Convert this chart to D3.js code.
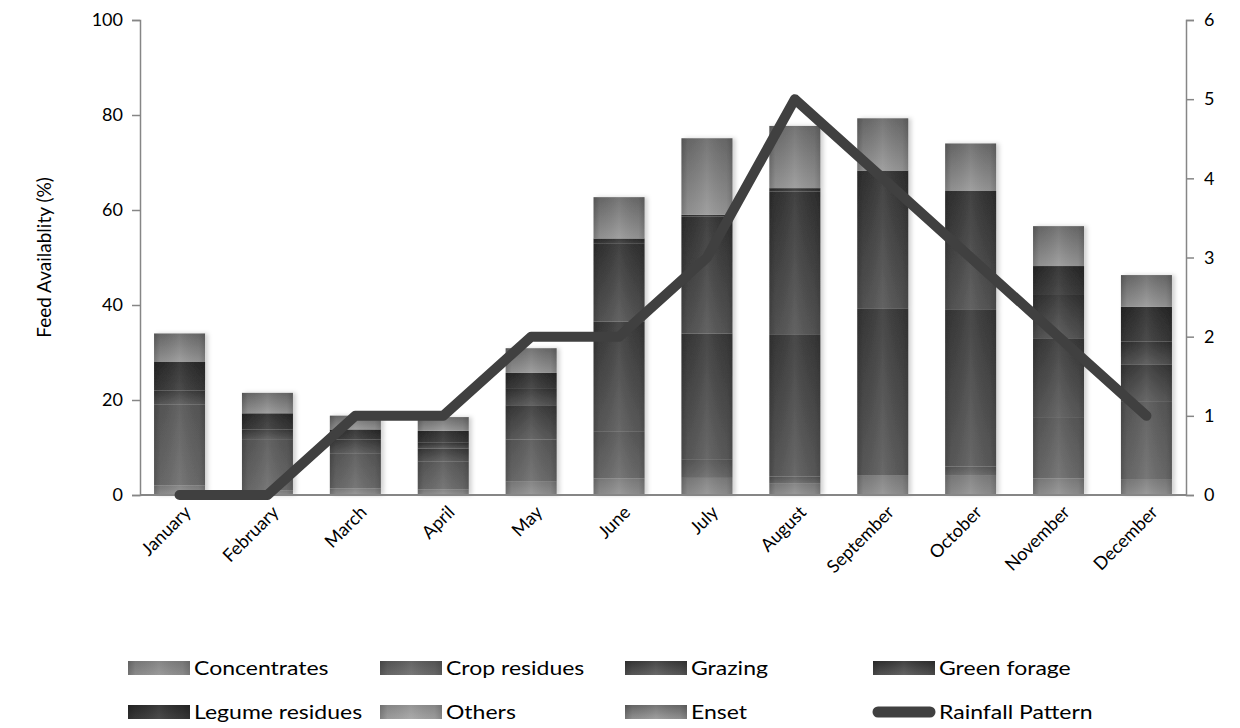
<!DOCTYPE html>
<html>
<head>
<meta charset="utf-8">
<script src="https://cdn.jsdelivr.net/npm/d3@7"></script>
<style>
  body { margin: 0; background: #fff; }
  svg text { font-family: Lato, "Open Sans", sans-serif; fill: #000; }
</style>
</head>
<body>
<div id="chart"></div>
<script>
// data
var months = ["January", "February", "March", "April", "May", "June",
              "July", "August", "September", "October", "November", "December"];
var concentrates   = [2.0, 1.0, 1.4, 1.2, 2.8, 3.5, 3.6, 2.5, 4.2, 4.2, 3.5, 3.2];
var cropResidues   = [17.0, 10.6, 7.4, 5.8, 8.9, 9.8, 3.8, 1.4, 0, 1.8, 12.9, 16.4];
var grazing        = [3.0, 2.2, 2.9, 2.8, 7.2, 23.2, 26.6, 29.8, 35.1, 33.1, 16.6, 7.8];
var greenForage    = [0, 0, 0, 1.2, 3.6, 16.5, 24.6, 30.2, 29.0, 24.9, 9.3, 4.9];
var legumeResidues = [6.0, 3.4, 2.1, 2.5, 3.2, 1.0, 0.4, 0.7, 0, 0, 5.9, 7.3];
var others         = [0, 0, 0, 0, 0, 0, 0, 0, 0, 0, 0, 0];
var enset          = [6.0, 4.3, 2.9, 2.9, 5.2, 8.7, 16.1, 13.1, 11.0, 10.0, 8.4, 6.7];
var rainfall       = [0, 0, 1, 1, 2, 2, 3, 5, 4, 3, 2, 1];
var leftTicks  = [0, 20, 40, 60, 80, 100];
var rightTicks = [0, 1, 2, 3, 4, 5, 6];

var seriesNames = ["Concentrates", "Crop residues", "Grazing", "Green forage",
                   "Legume residues", "Others", "Enset"];
var seriesValues = [concentrates, cropResidues, grazing, greenForage,
                    legumeResidues, others, enset];

// gradient look per series: [top colour, bottom colour]
var shades = {
  "Concentrates":    ["#7c7c7c", "#929292"],
  "Crop residues":   ["#575757", "#6c6c6c"],
  "Grazing":         ["#393939", "#5c5c5c"],
  "Green forage":    ["#323232", "#565656"],
  "Legume residues": ["#2a2a2a", "#3c3c3c"],
  "Others":          ["#8c8c8c", "#a4a4a4"],
  "Enset":           ["#6a6a6a", "#989898"]
};

var W = 1240, H = 728;
var plotL = 140, plotR = 1186, plotT = 20, plotB = 495;

var svg = d3.select("#chart").append("svg")
  .attr("width", W).attr("height", H);

var defs = svg.append("defs");
seriesNames.forEach(function(name, i) {
  var s = shades[name];
  var v = defs.append("linearGradient").attr("id", "gv" + i)
    .attr("x1", 0).attr("y1", 0).attr("x2", 0).attr("y2", 1);
  v.append("stop").attr("offset", "0%").attr("stop-color", s[0]);
  v.append("stop").attr("offset", "100%").attr("stop-color", s[1]);
});
// horizontal sheen laid over each segment: darker edges, lighter middle
var hz = defs.append("linearGradient").attr("id", "sheen")
  .attr("x1", 0).attr("y1", 0).attr("x2", 1).attr("y2", 0);
hz.append("stop").attr("offset", "0%").attr("stop-color", "#000").attr("stop-opacity", 0.22);
hz.append("stop").attr("offset", "12%").attr("stop-color", "#000").attr("stop-opacity", 0.05);
hz.append("stop").attr("offset", "50%").attr("stop-color", "#fff").attr("stop-opacity", 0.08);
hz.append("stop").attr("offset", "88%").attr("stop-color", "#000").attr("stop-opacity", 0.05);
hz.append("stop").attr("offset", "100%").attr("stop-color", "#000").attr("stop-opacity", 0.18);

var shadow = defs.append("filter").attr("id", "shadow")
  .attr("x", "-20%").attr("y", "-5%").attr("width", "150%").attr("height", "110%");
shadow.append("feDropShadow").attr("dx", 3).attr("dy", 0).attr("stdDeviation", 2)
  .attr("flood-color", "#000").attr("flood-opacity", 0.18);

var x = d3.scaleBand().domain(months).range([plotL, plotR])
  .paddingInner(0.42).paddingOuter(0.16);
var y = d3.scaleLinear().domain([0, 100]).range([plotB, plotT]);
var y2 = d3.scaleLinear().domain([0, 6]).range([plotB, plotT]);

var table = months.map(function(m, j) {
  var row = { month: m };
  seriesNames.forEach(function(n, i) { row[n] = seriesValues[i][j]; });
  return row;
});
var stacked = d3.stack().keys(seriesNames)(table);

// bars
var barG = svg.append("g").attr("filter", "url(#shadow)");
stacked.forEach(function(layer, i) {
  var g = barG.append("g");
  var segs = g.selectAll("g").data(layer.filter(function(d) { return d[1] - d[0] > 0; }))
    .enter().append("g");
  segs.append("rect")
    .attr("x", function(d) { return x(d.data.month); })
    .attr("width", x.bandwidth())
    .attr("y", function(d) { return y(d[1]); })
    .attr("height", function(d) { return y(d[0]) - y(d[1]); })
    .attr("fill", "url(#gv" + i + ")");
  segs.append("rect")
    .attr("x", function(d) { return x(d.data.month); })
    .attr("width", x.bandwidth())
    .attr("y", function(d) { return y(d[1]); })
    .attr("height", function(d) { return y(d[0]) - y(d[1]); })
    .attr("fill", "url(#sheen)");
});

// axes
var axisColor = "#868686";
var leftAxis = svg.append("g").attr("transform", "translate(" + plotL + ",0)")
  .call(d3.axisLeft(y).tickValues(leftTicks).tickSize(8).tickPadding(9));
var rightAxis = svg.append("g").attr("transform", "translate(" + plotR + ",0)")
  .call(d3.axisRight(y2).tickValues(rightTicks).tickFormat(d3.format("d"))
    .tickSize(8).tickPadding(10));
[leftAxis, rightAxis].forEach(function(a) {
  a.select(".domain").attr("stroke", axisColor).attr("stroke-width", 1.5);
  a.selectAll(".tick line").attr("stroke", axisColor).attr("stroke-width", 1.5);
  a.selectAll(".tick text").style("font-size", "18px").attr("fill", "#000");
});

svg.append("line")
  .attr("x1", plotL).attr("x2", plotR).attr("y1", plotB).attr("y2", plotB)
  .attr("stroke", axisColor).attr("stroke-width", 2);

// month labels
svg.append("g").selectAll("text").data(months).enter().append("text")
  .attr("transform", function(m) {
    return "translate(" + (x(m) + x.bandwidth() / 2 + 8) + "," + (plotB + 14) + ") rotate(-45)";
  })
  .attr("text-anchor", "end")
  .attr("dy", "0.35em")
  .style("font-size", "18px")
  .text(function(m) { return m; });

// y title
svg.append("text")
  .attr("transform", "translate(44," + ((plotT + plotB) / 2) + ") rotate(-90)")
  .attr("text-anchor", "middle")
  .attr("dy", "0.35em")
  .style("font-size", "19px")
  .text("Feed Availablity (%)");

// rainfall line
var line = d3.line()
  .x(function(d, j) { return x(months[j]) + x.bandwidth() / 2; })
  .y(function(d) { return y2(d); });
svg.append("path").datum(rainfall)
  .attr("d", line)
  .attr("fill", "none")
  .attr("stroke", "#404040")
  .attr("stroke-width", 10)
  .attr("stroke-linecap", "round")
  .attr("stroke-linejoin", "round");

// legend
var legCols = [128, 380, 625, 873];
var legRows = [668, 712];
var legItems = seriesNames.concat(["Rainfall Pattern"]);
var leg = svg.append("g").selectAll("g").data(legItems).enter().append("g")
  .attr("transform", function(d, i) {
    return "translate(" + legCols[i % 4] + "," + legRows[Math.floor(i / 4)] + ")";
  });
leg.each(function(d, i) {
  var g = d3.select(this);
  if (i < seriesNames.length) {
    g.append("rect").attr("x", 0).attr("y", -7).attr("width", 62).attr("height", 14)
      .attr("fill", "url(#gv" + i + ")");
    g.append("rect").attr("x", 0).attr("y", -7).attr("width", 62).attr("height", 14)
      .attr("fill", "url(#sheen)");
  } else {
    g.append("line").attr("x1", 5).attr("x2", 57).attr("y1", 0).attr("y2", 0)
      .attr("stroke", "#404040").attr("stroke-width", 11).attr("stroke-linecap", "round");
  }
  g.append("text").attr("transform", "translate(66,0) scale(1.15,1)")
    .attr("dy", "0.36em")
    .style("font-size", "20px").text(d);
});
</script>
</body>
</html>
